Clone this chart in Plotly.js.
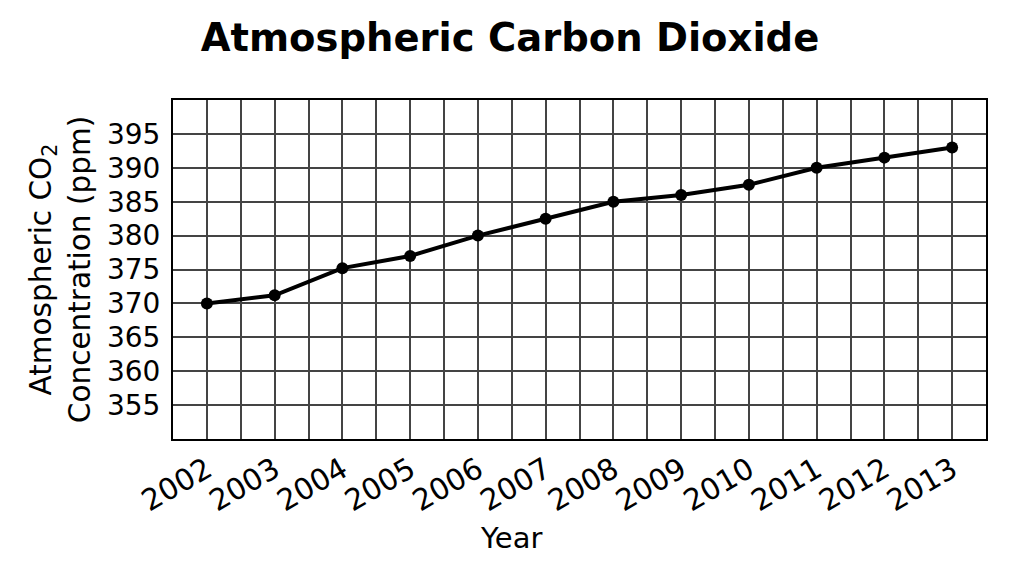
<!DOCTYPE html>
<html>
<head>
<meta charset="utf-8">
<script src="https://cdn.plot.ly/plotly-3.0.1.min.js"></script>
<style>
  html, body { margin: 0; padding: 0; background: #fff; }
  #chart { width: 1020px; height: 574px; }
</style>
</head>
<body>
<div id="chart"></div>
<script>
// values
const years = [2002, 2003, 2004, 2005, 2006, 2007, 2008, 2009, 2010, 2011, 2012, 2013];
const co2ppm = [370, 371.2, 375.2, 377, 380, 382.5, 385, 386, 387.5, 390, 391.5, 393];
const yTicks = [355, 360, 365, 370, 375, 380, 385, 390, 395];

const font = "DejaVu Sans, Verdana, sans-serif";
const gridStyle = { showgrid: true, gridcolor: "#444", gridwidth: 2 };

const data = [{
    x: years,
    y: co2ppm,
    mode: "lines+markers",
    type: "scatter",
    line: { color: "#000", width: 4 },
    marker: { color: "#000", size: 12 },
    hoverinfo: "skip",
}];

const layout = {
    width: 1020,
    height: 574,
    margin: { l: 173, r: 34, t: 100, b: 135 },
    paper_bgcolor: "#fff",
    plot_bgcolor: "#fff",
    showlegend: false,
    font: { family: font, color: "#000", size: 27 },
    title: {
        text: "<b>Atmospheric Carbon Dioxide</b>",
        font: { family: font, size: 38.5, color: "#000" },
        x: 0.5,
        xanchor: "center",
        y: 0.935,
        yanchor: "middle",
    },
    xaxis: {
        range: [2001.5, 2013.5],
        tickvals: years,
        ticktext: years.map(String),
        tickangle: -30,
        ticks: "",
        showgrid: false,
        minor: Object.assign({ dtick: 0.5, tick0: 2001.5 }, gridStyle),
        showline: true,
        linecolor: "#000",
        linewidth: 2,
        mirror: true,
        zeroline: false,
        tickfont: { family: font, size: 29.5, color: "#000" },
        fixedrange: true,
    },
    yaxis: {
        range: [350, 400],
        tickvals: yTicks,
        ticks: "",
        ticklabelstandoff: 5,
        showgrid: false,
        minor: Object.assign({ dtick: 5, tick0: 350 }, gridStyle),
        showline: true,
        linecolor: "#000",
        linewidth: 2,
        mirror: true,
        zeroline: false,
        tickfont: { family: font, size: 28, color: "#000" },
        title: {
            text: "Atmospheric CO<sub>2</sub><br>Concentration (ppm)",
            font: { family: font, size: 29.5, color: "#000" },
            standoff: 8,
        },
        fixedrange: true,
    },
    annotations: [{
        text: "Year",
        xref: "paper",
        yref: "paper",
        x: 0.4157,
        y: -0.292,
        xanchor: "center",
        yanchor: "middle",
        showarrow: false,
        font: { family: font, size: 29, color: "#000" },
    }],
};

Plotly.newPlot("chart", data, layout, { displayModeBar: false, staticPlot: true });
</script>
</body>
</html>
